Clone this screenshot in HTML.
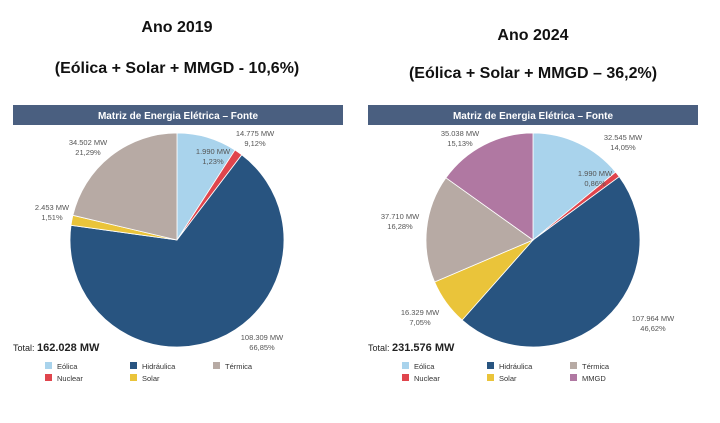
<!DOCTYPE html>
<html><head><meta charset="utf-8"><style>
body{margin:0;background:#fff;width:720px;height:423px;overflow:hidden;font-family:"Liberation Sans",sans-serif}
svg{position:absolute;left:0;top:0}
</style></head><body>
<svg id="c" width="720" height="423" font-family="Liberation Sans, sans-serif"></svg>
<script>
const categories1=["Eólica","Nuclear","Hidráulica","Solar","Térmica"];
const values1=[14775,1990,108309,2453,34502];
const labels1=["14.775 MW|9,12%","1.990 MW|1,23%","108.309 MW|66,85%","2.453 MW|1,51%","34.502 MW|21,29%"];
const categories2=["Eólica","Nuclear","Hidráulica","Solar","Térmica","MMGD"];
const values2=[32545,1990,107964,16329,37710,35038];
const labels2=["32.545 MW|14,05%","1.990 MW|0,86%","107.964 MW|46,62%","16.329 MW|7,05%","37.710 MW|16,28%","35.038 MW|15,13%"];
const colors={"Eólica":"#a9d3ec","Nuclear":"#e0454d","Hidráulica":"#285480","Solar":"#eac43a","Térmica":"#b7aaa4","MMGD":"#b078a2"};
const NS="http://www.w3.org/2000/svg";
const svg=document.getElementById('c');
function el(t,a,p){const e=document.createElementNS(NS,t);for(const k in a)e.setAttribute(k,a[k]);(p||svg).appendChild(e);return e;}
function txt(x,y,s,a){const e=el('text',Object.assign({x:x,y:y},a));e.textContent=s;return e;}

function panel(px,cx,title,sub,tY,sY,cats,vals,labs,labPos,total,legX){
  const g=el('g',{});
  
  
  const t1=txt(cx,tY,title,{'font-size':16,'font-weight':'bold','text-anchor':'middle',fill:'#111'});g.appendChild(t1);
  
  const t2=txt(cx,sY,sub,{'font-size':16,'font-weight':'bold','text-anchor':'middle',fill:'#111'});g.appendChild(t2);
  
  const hb=el('rect',{x:px,y:105,width:330,height:20,fill:'#4a5f80'},g);
  
  const ht=txt(px+165,119,'Matriz de Energia Elétrica – Fonte',{'font-size':10,'font-weight':'bold','text-anchor':'middle',fill:'#fff'});g.appendChild(ht);
  
  const pcx=cx,pcy=240,r=107;
  const sum=vals.reduce((a,b)=>a+b,0);
  let a0=0;
  vals.forEach((v,i)=>{
    const a1=a0+v/sum*2*Math.PI;
    const x0=pcx+r*Math.sin(a0),y0=pcy-r*Math.cos(a0),x1=pcx+r*Math.sin(a1),y1=pcy-r*Math.cos(a1);
    const p=el('path',{d:`M${pcx},${pcy}L${x0},${y0}A${r},${r} 0 ${a1-a0>Math.PI?1:0} 1 ${x1},${y1}Z`,fill:colors[cats[i]],stroke:'#fff','stroke-width':0.8},g);
    
    
    const lp=labPos[i];const parts=labs[i].split('|');
    const l=txt(lp[0],lp[1],'',{'font-size':7.5,'text-anchor':'middle',fill:'#555'});g.appendChild(l);
    
    
    const s1=el('tspan',{x:lp[0]},l);s1.textContent=parts[0];
    const s2=el('tspan',{x:lp[0],dy:10},l);s2.textContent=parts[1];
    a0=a1;
  });
  const tt=txt(px,351,'',{fill:'#222'});g.appendChild(tt);
  
  const a=el('tspan',{'font-size':9},tt);a.textContent='Total:  ';
  const b=el('tspan',{'font-size':11,'font-weight':'bold'},tt);b.textContent=total;
  cats.forEach((c,i)=>{
    const x=legX[Math.floor(i/2)],y=i%2===0?362:374;
    const sw=el('rect',{x:x,y:y,width:7,height:7,fill:colors[c]},g);
    
    const lt=txt(x+12,y+7,c,{'font-size':7.5,fill:'#333'});g.appendChild(lt);
    
  });
}
panel(13,177,'Ano 2019','(Eólica + Solar + MMGD - 10,6%)',32,73,categories1,values1,labels1,
 [[255,136],[213,154],[262,340],[52,210],[88,145]],'162.028 MW',[45,130,213]);
panel(368,533,'Ano 2024','(Eólica + Solar + MMGD – 36,2%)',40,78,categories2,values2,labels2,
 [[623,140],[595,176],[653,321],[420,315],[400,219],[460,136]],'231.576 MW',[402,487,570]);
</script>
</body></html>
